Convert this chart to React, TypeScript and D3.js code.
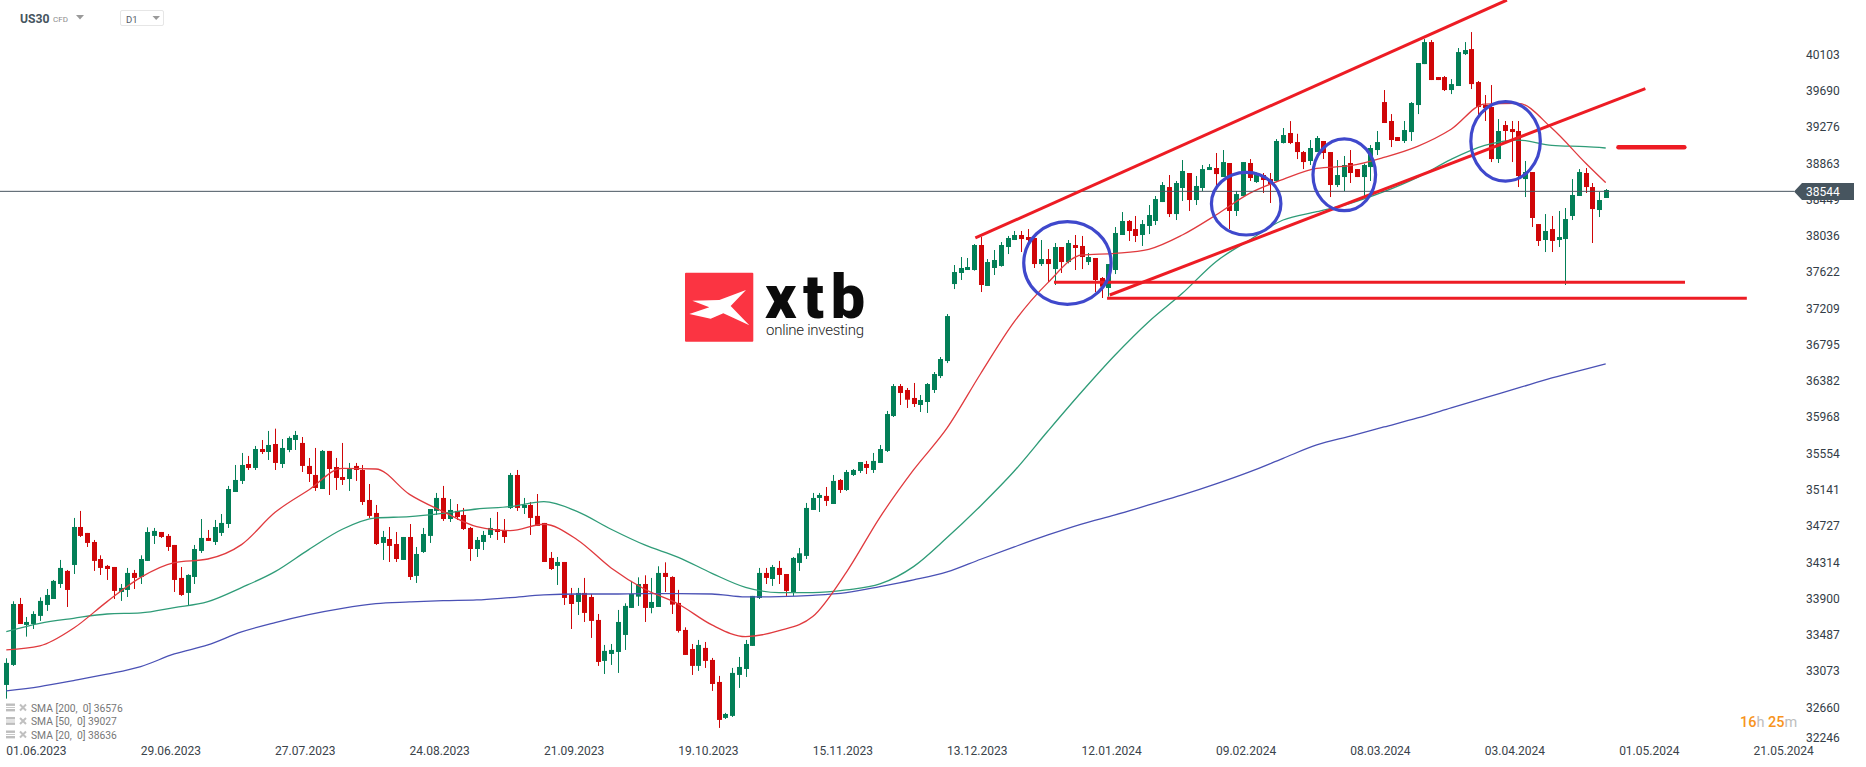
import React from 'react'
import * as d3 from 'd3'

const width = 1866
const height = 767

const opens = [
  32916,33144,33839,33600,33611,33703,33828,33896,34067,34216,
  34284,34717,34649,34546,34352,34273,34261,33976,33999,34193,
  34147,34330,34615,34660,34615,34512,34136,33965,34147,34444,
  34592,34546,34649,34751,35116,35242,35435,35390,35606,35572,
  35663,35435,35595,35709,35675,35413,35310,35150,35584,35401,
  35287,35264,35413,35367,35025,34877,34535,34580,34523,34341,
  34603,34159,34432,34615,34900,35048,34808,34900,34854,34706,
  34466,34546,34626,34694,34683,34934,35310,34934,34968,34843,
  34763,34364,34273,34318,33942,33862,33965,33919,33657,33190,
  33269,33292,33486,33794,33923,34067,33794,33805,34193,34147,
  33851,33543,33326,33133,33338,33201,32950,32540,32563,33030,
  33098,33361,33908,34193,34124,34250,34181,33976,34307,34387,
  34911,35048,35071,34979,35253,35139,35310,35356,35435,35367,
  35447,35584,35982,36324,36279,36188,36108,36142,36279,36438,
  36609,37487,37613,37647,37647,37932,37465,37670,37693,37909,
  37989,38046,38023,38012,37715,37772,37658,37909,37738,37932,
  37921,37738,37784,37556,37442,37647,38046,38206,38114,38046,
  38149,38206,38422,38593,38285,38582,38753,38445,38582,38787,
  38810,38707,38867,38320,38490,38867,38650,38730,38684,38662,
  39095,39209,39106,38992,38890,38992,39118,38992,38616,38707,
  38867,38798,38707,38821,39015,39562,39346,39163,39118,39220,
  39528,39995,40246,39847,39847,39699,39745,40109,40166,39790,
  39528,39505,38912,39300,39254,39232,38684,38764,38171,37989,
  38114,37989,38000,38263,38491,38753,38593,38331,38468,
]
const highs = [
  33220,33870,33908,33691,33756,33915,34010,34113,34341,34227,
  34820,34900,34649,34569,34394,34284,34261,34067,34250,34227,
  34394,34713,34706,34660,34637,34512,34261,34178,34512,34808,
  34683,34797,34865,35185,35424,35561,35527,35641,35709,35812,
  35838,35720,35750,35812,35743,35504,35618,35595,35584,35504,
  35675,35447,35447,35424,35207,34968,34672,34717,34660,34603,
  34751,34489,34706,34922,35105,35185,35036,34979,34934,34717,
  34603,34672,34820,34888,34808,35333,35367,35048,35002,35093,
  34763,34432,34375,34318,34022,34022,34136,33953,33725,33372,
  33383,33771,33847,34102,34143,34166,34136,34269,34314,34155,
  34000,33573,33383,33429,33406,33224,33019,32597,33110,33235,
  33429,33931,34250,34250,34284,34330,34181,34375,34478,34991,
  35105,35105,35173,35310,35264,35367,35378,35458,35470,35561,
  35652,36040,36347,36347,36302,36359,36222,36358,36484,36655,
  37145,37704,37795,37784,37943,38023,37772,37875,37966,38035,
  38092,38092,38114,38012,37989,37886,37955,37909,37989,38046,
  38035,37841,37784,37567,37715,38137,38308,38217,38263,38217,
  38388,38491,38650,38730,38662,38901,38753,38719,38844,38855,
  38981,39015,38867,38548,38878,38912,38760,38753,38753,39140,
  39266,39345,39200,39004,39129,39175,39118,38992,38901,38947,
  39015,38798,38860,39072,39232,39699,39425,39163,39346,39562,
  40007,40280,40269,39847,39859,39824,40178,40246,40360,39802,
  39642,39756,39368,39346,39346,39346,38890,38764,38171,38285,
  38263,38320,38354,38684,38798,38810,38639,38536,38570,
]
const lows = [
  32760,33133,33611,33467,33554,33646,33760,33896,34022,33805,
  34181,34603,34489,34216,34170,34113,33896,33874,33919,34010,
  34067,34330,34523,34592,34444,33976,33931,33817,34067,34421,
  34558,34512,34615,34706,35116,35207,35367,35367,35549,35481,
  35367,35390,35570,35595,35344,35230,35128,35150,35082,35139,
  35196,35128,35242,34968,34820,34512,34341,34318,34318,34341,
  34113,34079,34421,34535,34854,34786,34774,34797,34683,34330,
  34375,34455,34592,34569,34535,34922,34900,34865,34626,34729,
  34318,34227,34056,33828,33554,33714,33634,33452,33133,33041,
  33144,33053,33315,33794,33817,33634,33733,33805,33976,33725,
  33513,33258,33030,33076,33110,32848,32426,32528,32551,32882,
  33007,33361,33896,34067,34045,34067,33931,33931,34216,34352,
  34911,34888,34957,34979,35105,35128,35299,35333,35321,35333,
  35447,35572,35971,36108,36074,36085,36028,36017,36245,36415,
  36586,37430,37533,37647,37640,37396,37465,37590,37685,37829,
  37989,37852,37913,37670,37693,37510,37476,37613,37723,37647,
  37658,37704,37396,37328,37343,37601,38046,37978,37966,37921,
  38057,38160,38422,38251,38217,38434,38320,38388,38548,38787,
  38559,38707,38114,38263,38490,38662,38640,38525,38411,38650,
  39090,39083,38912,38798,38844,38992,38913,38479,38593,38548,
  38639,38707,38491,38662,38958,39323,39049,39118,39095,39118,
  39425,39995,39813,39813,39688,39653,39745,40098,39710,39414,
  39346,38878,38867,39114,38878,38593,38479,38137,37921,37852,
  37852,37909,37476,38217,38491,38525,37955,38251,38468,
]
const closes = [
  33167,33839,33611,33634,33725,33874,33942,34102,34250,33999,
  34717,34615,34535,34330,34250,34238,33988,34022,34193,34136,
  34352,34660,34672,34603,34489,34113,33942,34170,34466,34592,
  34558,34717,34763,35150,35253,35424,35390,35606,35572,35652,
  35447,35618,35732,35766,35413,35321,35162,35584,35378,35276,
  35253,35378,35367,35002,34843,34523,34603,34501,34352,34603,
  34147,34409,34637,34922,35048,34808,34911,34831,34694,34466,
  34569,34626,34706,34660,34603,35310,34934,34968,34820,34729,
  34318,34238,34318,33908,33839,33965,33737,33646,33178,33304,
  33315,33634,33817,33953,34067,33794,33862,34193,34147,33832,
  33532,33258,33133,33372,33190,32927,32517,32585,33053,33121,
  33383,33931,34193,34136,34261,34170,33988,34364,34417,34934,
  35048,35082,35014,35242,35139,35344,35367,35458,35390,35470,
  35606,36005,36324,36245,36168,36119,36165,36347,36461,36632,
  37122,37624,37670,37681,37932,37476,37738,37761,37932,38012,
  38046,38000,37989,37715,37772,37715,37909,37738,37955,37898,
  37795,37795,37533,37457,37715,38069,38206,38092,38035,38171,
  38274,38456,38616,38285,38639,38776,38445,38605,38798,38821,
  38741,38878,38320,38513,38878,38696,38749,38673,38627,39118,
  39186,39095,38992,38878,39038,39152,38981,38616,38730,38844,
  38753,38707,38844,39038,39106,39323,39129,39118,39243,39551,
  40007,40246,39813,39813,39699,39767,40132,40155,39767,39505,
  39494,38912,39232,39232,39220,38719,38764,38240,37978,38092,
  37978,38023,38228,38502,38764,38593,38342,38445,38559,
]

// moving averages
const smaBars = [
  0,5,10,15,20,25,30,35,40,45,50,55,60,65,70,75,80,85,90,95,100,105,110,115,120,
  125,130,135,140,145,150,155,160,165,170,175,180,185,190,195,200,205,210,215,220,225,230,235,238,
]
const sma20 = [
  33315,33361,33562,33866,34143,34311,34352,34516,34884,35139,35386,35378,35089,34892,34721,34675,34748,34569,34250,
  34007,33839,33600,33467,33535,33695,34200,34827,35367,35846,36467,37058,37503,37818,37837,37883,38046,38274,38521,38681,38806,
  38836,38931,39057,39252,39539,39547,39262,38867,38643,
]
const sma50 = [
  33524,33619,33676,33725,33737,33798,33866,34026,34208,34459,34691,34820,34835,34873,34922,34949,35006,34892,34691,
  34512,34371,34189,34029,33969,33969,34000,34067,34265,34596,34960,35355,35811,36256,36678,37058,37381,37742,37989,38217,38312,
  38407,38540,38703,38909,39068,39129,39068,39053,39038,
]
const sma200 = [
  32848,32897,32965,33038,33125,33269,33372,33520,33627,33718,33790,33843,33862,33877,33885,33912,33942,33953,33953,
  33957,33957,33953,33919,33923,33938,33969,34037,34113,34204,34349,34490,34626,34750,34855,34968,35082,35208,35345,35500,35652,
  35754,35857,35960,36074,36188,36302,36416,36518,36576,
]

const priceTicks = [40103,39690,39276,38863,38449,38036,37622,37209,36795,36382,35968,35554,35141,34727,34314,33900,33487,33073,32660,32246]
const dateTicks = [
  '01.06.2023','29.06.2023','27.07.2023','24.08.2023','21.09.2023','19.10.2023','15.11.2023',
  '13.12.2023','12.01.2024','09.02.2024','08.03.2024','03.04.2024','01.05.2024','21.05.2024',
]
const legendRows = ['SMA [200,  0] 36576', 'SMA [50,  0] 39027', 'SMA [20,  0] 38636']
const lastPrice = 38544

// hand drawn annotations, [bar, price]
const trendLines = [
  [[144.2, 38012], [223.3, 40725]],
  [[164.2, 37362], [243.9, 39716]],
]
const levelLines = [
  [155.9, 249.8, 37507],
  [163.8, 259.0, 37324],
]
const targetLine = [239.9, 249.7, 39046]
// bar, price, half width in bars, half height in points
const circles = [
  [157.9, 37727, 6.5, 471],
  [184.5, 38403, 5.17, 357],
  [199.1, 38733, 4.66, 410],
  [223.1, 39114, 5.17, 453],
]

const x = d3.scaleLinear().domain([0, 238]).range([6.3, 1605.7])
const y = d3.scaleLinear().domain([32246, 40103]).range([743.7, 54.6])

const GREEN = '#037f57'
const RED = '#cf0608'
const MARK_RED = '#ed1c24'
const MARK_BLUE = '#3f48cc'
const SLATE = '#47555f'
const FONT = 'Roboto, sans-serif'

const smaLine = (values: number[]) =>
  d3.line<number>()
    .x((_, i) => x(smaBars[i]))
    .y(d => y(d))
    .curve(d3.curveMonotoneX)(values) || ''

export default function App() {
  return (
    <svg width={width} height={height} style={{position: 'absolute', left: 0, top: 0, display: 'block', background: '#fff'}} fontFamily={FONT}>
      {/* logo */}
      <g>
        <rect x={685} y={272.7} width={68.3} height={69} rx={1} fill="#fb3442" />
        <polygon
          transform="translate(660,250) scale(0.3333)"
          points="97,152 178,150 258,120 212,168 268,226 190,190 152,206 88,192 148,172"
          fill="#fff"
        />
        <text x={765} y={318.3} fontSize={61} fontWeight={900} fill="#0b0b0b" textLength={100} lengthAdjust="spacing">xtb</text>
        <text x={766} y={335} fontSize={15} fontWeight={300} fill="#222" textLength={98} lengthAdjust="spacing">online investing</text>
      </g>

      {/* candles */}
      {opens.map((o, i) => {
        const c = closes[i]
        const px = Math.round(x(i))
        const top = y(Math.max(o, c))
        const bottom = y(Math.min(o, c))
        const color = c >= o ? GREEN : RED
        return (
          <g key={i} fill={color}>
            <rect x={px} y={y(highs[i])} width={1} height={y(lows[i]) - y(highs[i])} />
            <rect x={px - 2} y={top} width={5} height={Math.max(bottom - top, 1)} />
          </g>
        )
      })}

      {/* moving averages */}
      <path d={smaLine(sma200)} fill="none" stroke="#4a51b5" strokeWidth={1.3} />
      <path d={smaLine(sma50)} fill="none" stroke="#2f9c78" strokeWidth={1.3} />
      <path d={smaLine(sma20)} fill="none" stroke="#e03a3e" strokeWidth={1.3} />

      {/* last price */}
      <line x1={0} x2={1794} y1={y(lastPrice)} y2={y(lastPrice)} stroke={SLATE} strokeWidth={1} />

      {/* annotations */}
      {trendLines.map((l, i) => (
        <line key={i} x1={x(l[0][0])} y1={y(l[0][1])} x2={x(l[1][0])} y2={y(l[1][1])} stroke={MARK_RED} strokeWidth={3} />
      ))}
      {levelLines.map((l, i) => (
        <line key={i} x1={x(l[0])} x2={x(l[1])} y1={y(l[2])} y2={y(l[2])} stroke={MARK_RED} strokeWidth={3} />
      ))}
      <line x1={x(targetLine[0])} x2={x(targetLine[1])} y1={y(targetLine[2])} y2={y(targetLine[2])} stroke={MARK_RED} strokeWidth={4.5} strokeLinecap="round" />
      {circles.map((c, i) => (
        <ellipse
          key={i}
          cx={x(c[0])}
          cy={y(c[1])}
          rx={x(c[2]) - x(0)}
          ry={y(0) - y(c[3])}
          fill="none"
          stroke={MARK_BLUE}
          strokeWidth={3.2}
        />
      ))}

      {/* price axis */}
      {priceTicks.map((t, i) => (
        <text key={t} x={1806} y={t === 32246 ? y(t) - 6 : y(t)} dy="0.35em" fontSize={12} fill="#333d47">{t}</text>
      ))}
      <polygon points="1794,191.5 1802,183 1854,183 1854,200 1802,200" fill={SLATE} />
      <text x={1806} y={y(lastPrice)} dy="0.35em" fontSize={12} fill="#fff">{lastPrice}</text>

      {/* date axis */}
      {dateTicks.map((d, i) => (
        <text key={d} x={x(i * 20)} y={751} dy="0.35em" fontSize={12} fill="#3a434a">{d}</text>
      ))}

      {/* indicator legend */}
      {legendRows.map((r, i) => {
        const ly = 708 + i * 13.5
        return (
          <g key={r}>
            <rect x={6} y={ly - 4.5} width={9} height={2.4} fill="#bdbdbd" />
            <rect x={6} y={ly - 1} width={9} height={1} fill="#c8c8c8" />
            <rect x={6} y={ly + 1} width={9} height={2.4} fill="#bdbdbd" />
            <path d={`M20 ${ly - 3.5}L26 ${ly + 2.5}M26 ${ly - 3.5}L20 ${ly + 2.5}`} stroke="#c0c0c0" strokeWidth={2} />
            <text x={31} y={ly} dy="0.35em" fontSize={10.3} fill="#777" style={{whiteSpace: 'pre'}}>{r}</text>
          </g>
        )
      })}

      {/* countdown */}
      <text x={1740} y={722} dy="0.35em" fontSize={14.5} fontWeight={500} fill="#f7941d">
        16<tspan fill="#bdbdbd" fontWeight={400}>h </tspan>25<tspan fill="#bdbdbd" fontWeight={400}>m</tspan>
      </text>

      {/* instrument header */}
      <text x={20} y={19} dy="0.35em" fontSize={12.2} fontWeight={700} fill={SLATE}>US30</text>
      <text x={53} y={19} dy="0.35em" fontSize={8} fill="#8c8c8c">CFD</text>
      <polygon points="76,15 84,15 80,19.5" fill="#9a9a9a" />
      <rect x={120.5} y={10.5} width={43} height={15} rx={1.5} fill="#fff" stroke="#e6e6e6" />
      <text x={126} y={20} dy="0.35em" fontSize={9.5} fill="#55606a">D1</text>
      <polygon points="152.5,16 160,16 156.2,20" fill="#9a9a9a" />
    </svg>
  )
}
